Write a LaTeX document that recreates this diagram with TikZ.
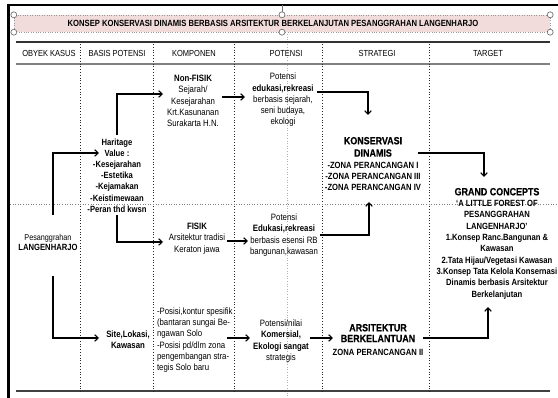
\documentclass[tikz,border=0pt]{standalone}
\usepackage{fontspec}
\setmainfont{Liberation Sans}[FakeStretch=0.85]
\newfontfamily\headfont{Liberation Sans}[FakeStretch=0.85,FakeBold=0.4]
\usetikzlibrary{arrows.meta}
\definecolor{titlepink}{HTML}{F2DCDB}
\begin{document}
\begin{tikzpicture}[x=1pt,y=-1pt,
  base/.style={inner sep=0pt, outer sep=0pt, align=center, font=\fontsize{9.2}{11.3}\selectfont},
  hdr/.style={inner sep=0pt, outer sep=0pt, font=\fontsize{8.8}{10}\selectfont},
  arr/.style={line width=1.1pt, -{Straight Barb[length=3.5pt,width=6.5pt,line width=1.1pt]}},
  divider/.style={dotted, line width=0.8pt, black!85},
  handle/.style={draw=black!55, fill=white, line width=0.7pt},
  rule/.style={line width=1.6pt}]
\useasboundingbox (0,0) rectangle (558,398);
% outer frame
\draw[line width=2pt] (7,5) -- (558,5);
\draw[line width=3pt] (8.5,4) -- (8.5,398);
% title box
\node[draw=black!40, dotted, fill=titlepink, minimum width=536pt, minimum height=17pt, inner sep=0pt] (titlebox) at (282,23.5) {};
\node[inner sep=0pt, font=\fontsize{9}{10}\selectfont\bfseries] (title) at (273,23.5)
  {KONSEP KONSERVASI DINAMIS BERBASIS ARSITEKTUR BERKELANJUTAN PESANGGRAHAN LANGENHARJO};
\draw[black!55, line width=0.6pt] (282,5) -- (titlebox.north);
\draw[black!30, dotted, line width=0.6pt] (287,34) -- (287,398);
\foreach \p in {north west, north, north east, south west, south, south east}
  \draw[handle] (titlebox.\p) circle (3pt);
% table rules
\draw[rule, black!80] (16,42) -- (550,42);
\draw[rule, black!50] (16,64) -- (550,64);
\draw[rule, black!75] (16,391) -- (550,391);
\foreach \x in {80,153,234,322,429}
  \draw[divider] (\x,44) -- (\x,393);
\draw[dotted, black!50, line width=0.6pt] (10,204) -- (558,204);
% headers
\node[hdr] (h1) at (49,53) {OBYEK KASUS};
\node[hdr] (h2) at (117,53) {BASIS POTENSI};
\node[hdr] (h3) at (194,53) {KOMPONEN};
\node[hdr] (h4) at (286,53) {POTENSI};
\node[hdr] (h5) at (377,53) {STRATEGI};
\node[hdr] (h6) at (488,53) {TARGET};
% nodes
\node[base, font=\fontsize{8.5}{10}\selectfont] (obyek) at (48,242)
  {Pesanggrahan\\\textbf{\fontsize{9}{10}\selectfont LANGENHARJO}};
\node[base, font=\fontsize{9}{11.2}\selectfont\bfseries] (haritage) at (117,175.5)
  {Haritage\\Value :\\-Kesejarahan\\-Estetika\\-Kejamakan\\-Keistimewaan\\-Peran thd kwsn};
\node[base] (site) at (128,340) {\textbf{Site,Lokasi,}\\\textbf{Kawasan}};
\node[base] (nonfisik) at (193,101)
  {\textbf{Non-FISIK}\\Sejarah/\\Kesejarahan\\Krt.Kasunanan\\Surakarta H.N.};
\node[base] (fisik) at (197,238.5) {\textbf{FISIK}\\Arsitektur tradisi\\Keraton jawa};
\node[base, align=left, anchor=west] (posisi) at (157,340)
  {-Posisi,kontur spesifik\\(bantaran sungai Be-\\ngawan Solo\\-Posisi pd/dlm zona\\pengembangan stra-\\tegis Solo baru};
\node[base] (pot1) at (283,100)
  {Potensi\\\textbf{edukasi,rekreasi}\\berbasis sejarah,\\seni budaya,\\ekologi};
\node[base] (pot2) at (284,235)
  {Potensi\\\textbf{Edukasi,rekreasi}\\berbasis esensi RB\\bangunan,kawasan};
\node[base] (pot3) at (281,341)
  {Potensi/nilai\\\textbf{Komersial,}\\\textbf{Ekologi sangat}\\strategis};
\node[base, anchor=north, font=\fontsize{9}{10.8}\selectfont\bfseries] (konservasi) at (373,137)
  {{\headfont\fontsize{10.5}{13}\selectfont KONSERVASI}\\[1.5pt]{\headfont\fontsize{10.5}{13}\selectfont DINAMIS}\\[1pt]-ZONA PERANCANGAN I\\-ZONA PERANCANGAN III\\-ZONA PERANCANGAN IV};
\node[base, anchor=north, font=\fontsize{9}{10.8}\selectfont\bfseries] (arsitektur) at (378,324)
  {{\headfont\fontsize{10.5}{13}\selectfont ARSITEKTUR}\\[0pt]{\headfont\fontsize{10.5}{13}\selectfont BERKELANTUAN}\\[3pt]ZONA PERANCANGAN II};
\node[base, anchor=north, font=\fontsize{9}{11.3}\selectfont\bfseries] (grand) at (497,188)
  {{\headfont\fontsize{10.5}{12}\selectfont GRAND CONCEPTS}\\[0pt]`A LITTLE FOREST OF\\PESANGGRAHAN\\LANGENHARJO'\\1.Konsep Ranc.Bangunan \&\\Kawasan\\2.Tata Hijau/Vegetasi Kawasan\\3.Konsep Tata Kelola Konsernasi\\Dinamis berbasis Arsitektur\\Berkelanjutan};
% connector end points
\coordinate (obyekUp) at (53,215);
\coordinate (obyekDown) at (53,276);
\coordinate (haritageIn) at (99,153);
\coordinate (siteIn) at (99,338);
\coordinate (nonfisikIn) at (163,94);
\coordinate (fisikIn) at (163,242);
\coordinate (nonfisikOut) at (222,97);
\coordinate (pot1In) at (245,97);
\coordinate (pot1Out) at (317,92);
\coordinate (konservasiTop) at (368,115);
\coordinate (konservasiOut) at (418,153);
\coordinate (grandTop) at (484,177);
\coordinate (fisikOut) at (227,241);
\coordinate (pot2In) at (248,241);
\coordinate (pot2Out) at (320,235);
\coordinate (konservasiBot) at (369,202);
\coordinate (posisiOut) at (227,338);
\coordinate (pot3In) at (250,338);
\coordinate (pot3Out) at (310,338);
\coordinate (arsitekturIn) at (333,338);
\coordinate (arsitekturOut) at (423,338);
\coordinate (grandBot) at (488,307);
% connectors
\draw[arr] (obyekUp) |- (haritageIn);
\draw[arr] (obyekDown) |- (siteIn);
\draw[arr] ([yshift=4pt]haritage.north) |- (nonfisikIn);
\draw[arr] ([yshift=-3pt]haritage.south) |- (fisikIn);
\draw[arr] (nonfisikOut) -- (pot1In);
\draw[arr] (pot1Out) -| (konservasiTop);
\draw[arr] (konservasiOut) -| (grandTop);
\draw[arr] (fisikOut) -- (pot2In);
\draw[arr] (pot2Out) -| (konservasiBot);
\draw[arr] (posisiOut) -- (pot3In);
\draw[arr] (pot3Out) -- (arsitekturIn);
\draw[arr] (arsitekturOut) -| (grandBot);
\end{tikzpicture}
\end{document}
